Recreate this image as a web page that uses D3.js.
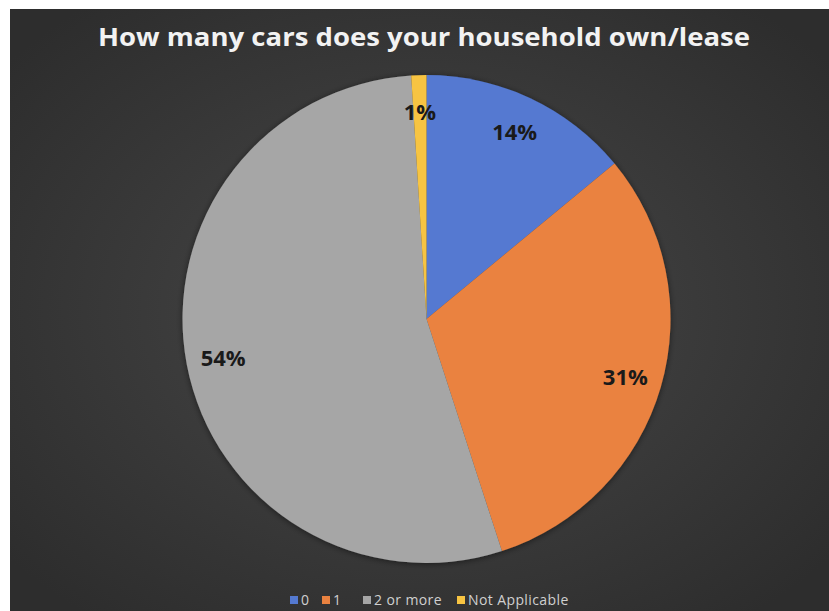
<!DOCTYPE html>
<html>
<head>
<meta charset="utf-8">
<script src="https://cdn.jsdelivr.net/npm/d3@7"></script>
<style>
  html, body { margin: 0; padding: 0; background: #ffffff; }
  svg { display: block; }
</style>
</head>
<body>
<svg id="chart" width="829" height="611"></svg>
<script>
// Household car ownership shares
const categories = ["0", "1", "2 or more", "Not Applicable"];
const shares = [14, 31, 54, 1];
const labels = ["14%", "31%", "54%", "1%"];
const colors = ["#5479d1", "#ea8240", "#a6a6a6", "#f7c442"];
const title = "How many cars does your household own/lease";

const W = 829, H = 611;
const svg = d3.select("#chart");

const defs = svg.append("defs");
const bg = defs.append("radialGradient")
  .attr("id", "bgGrad").attr("cx", "50%").attr("cy", "50%").attr("r", "65%");
bg.append("stop").attr("offset", "0%").attr("stop-color", "#484848");
bg.append("stop").attr("offset", "100%").attr("stop-color", "#2d2d2d");

const shadow = defs.append("filter").attr("id", "pieShadow")
  .attr("x", "-10%").attr("y", "-10%").attr("width", "120%").attr("height", "120%");
shadow.append("feGaussianBlur").attr("in", "SourceAlpha").attr("stdDeviation", 3).attr("result", "b");
shadow.append("feOffset").attr("in", "b").attr("dx", 0).attr("dy", 1).attr("result", "o");
shadow.append("feComponentTransfer").attr("in", "o").attr("result", "s")
  .append("feFuncA").attr("type", "linear").attr("slope", 0.5);
const merge = shadow.append("feMerge");
merge.append("feMergeNode").attr("in", "s");
merge.append("feMergeNode").attr("in", "SourceGraphic");

// dark panel
svg.append("rect")
  .attr("x", 10).attr("y", 9).attr("width", W - 10).attr("height", H - 9)
  .attr("fill", "url(#bgGrad)");

// title
svg.append("text")
  .attr("x", 424).attr("y", 46)
  .attr("text-anchor", "middle")
  .attr("font-family", "'Open Sans', sans-serif")
  .attr("font-weight", 700)
  .attr("font-size", 25)
  .attr("fill", "#f2f2f2")
  .attr("textLength", 652)
  .attr("lengthAdjust", "spacingAndGlyphs")
  .text(title);

// pie
const cx = 426.5, cy = 319, R = 244;
const data = categories.map((c, i) => ({ cat: c, value: shares[i], label: labels[i], color: colors[i] }));
const pie = d3.pie().value(d => d.value).sort(null);
const arcs = pie(data);
const arc = d3.arc().innerRadius(0).outerRadius(R);
const labelArc = d3.arc().innerRadius(207).outerRadius(207);

const g = svg.append("g").attr("transform", `translate(${cx},${cy})`);
g.append("g").attr("filter", "url(#pieShadow)")
  .selectAll("path").data(arcs).join("path")
  .attr("d", arc)
  .attr("fill", d => d.data.color);

g.selectAll("text.lbl").data(arcs).join("text")
  .attr("class", "lbl")
  .attr("transform", d => {
    const [x, y] = labelArc.centroid(d);
    return `translate(${x},${y})`;
  })
  .attr("text-anchor", "middle")
  .attr("dy", "0.36em")
  .attr("font-family", "'Open Sans', sans-serif")
  .attr("font-weight", 700)
  .attr("font-size", 22)
  .attr("fill", "#1a1a1a")
  .text(d => d.data.label);

// legend
const legendY = 600;
const legendX = [290, 322, 363, 457];
const leg = svg.append("g");
data.forEach((d, i) => {
  leg.append("rect")
    .attr("x", legendX[i]).attr("y", legendY - 4)
    .attr("width", 8).attr("height", 8)
    .attr("fill", d.color);
  leg.append("text")
    .attr("x", legendX[i] + 11).attr("y", legendY + 5)
    .attr("font-family", "'Open Sans', sans-serif")
    .attr("font-size", 14)
    .attr("letter-spacing", 0.4)
    .attr("fill", "#d0d0d0")
    .text(d.cat);
});
</script>
</body>
</html>
